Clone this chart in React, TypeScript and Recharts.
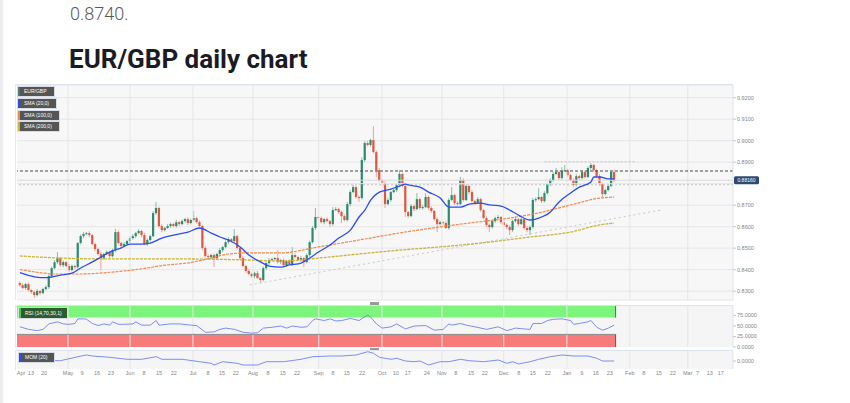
import React from 'react';
import {
  ComposedChart,
  Bar,
  Line,
  XAxis,
  YAxis,
  CartesianGrid,
  ReferenceLine,
  ReferenceArea,
} from 'recharts';

// ---- DATA (prices in pips = price * 10000) ----
const firstOpenPips = 8338;
const closePips = [
  8328, 8315, 8333, 8305, 8296, 8282, 8301, 8291, 8310, 8319,
  8370, 8407, 8435, 8454, 8421, 8435, 8417, 8398, 8417, 8412,
  8524, 8556, 8566, 8570, 8561, 8519, 8496, 8473, 8454, 8473,
  8482, 8463, 8491, 8575, 8524, 8510, 8519, 8533, 8547, 8556,
  8570, 8580, 8561, 8519, 8538, 8556, 8663, 8687, 8603, 8584,
  8594, 8603, 8612, 8603, 8621, 8612, 8626, 8635, 8617, 8631,
  8640, 8621, 8603, 8501, 8463, 8459, 8468, 8454, 8473, 8491,
  8505, 8528, 8542, 8533, 8556, 8501, 8454, 8417, 8394, 8380,
  8370, 8384, 8361, 8352, 8407, 8431, 8445, 8449, 8454, 8435,
  8445, 8421, 8440, 8426, 8468, 8459, 8445, 8454, 8435, 8468,
  8528, 8594, 8645, 8640, 8621, 8635, 8626, 8612, 8677, 8682,
  8668, 8649, 8631, 8705, 8761, 8784, 8738, 8733, 8910, 8989,
  8980, 9003, 8947, 8863, 8817, 8803, 8705, 8724, 8761, 8770,
  8794, 8845, 8789, 8668, 8649, 8696, 8682, 8728, 8687, 8691,
  8738, 8687, 8673, 8635, 8612, 8621, 8617, 8594, 8724, 8747,
  8710, 8705, 8817, 8724, 8789, 8761, 8719, 8710, 8728, 8677,
  8640, 8608, 8598, 8626, 8640, 8645, 8621, 8608, 8598, 8584,
  8626, 8635, 8612, 8635, 8594, 8584, 8598, 8724, 8728, 8738,
  8719, 8756, 8798, 8817, 8845, 8854, 8826, 8859, 8863, 8840,
  8817, 8794, 8835, 8826, 8854, 8831, 8873, 8887, 8863, 8835,
  8798, 8752, 8770, 8789, 8854, 8816,
];
const upWickPips = [
  6, 9, 5, 8, 4, 7, 10, 5, 6, 8,
  5, 7, 9, 28, 6, 8, 5, 9, 7, 6,
  4, 8, 10, 6, 9, 5, 7, 6, 8, 5,
  9, 6, 7, 14, 8, 5, 10, 6, 7, 9,
  6, 8, 5, 11, 7, 6, 9, 28, 6, 8,
  5, 9, 7, 6, 10, 5, 8, 6, 9, 7,
  33, 6, 8, 5, 7, 9, 6, 8, 5, 10,
  6, 8, 9, 5, 33, 7, 6, 8, 5, 9,
  6, 7, 10, 5, 8, 6, 9, 7, 5, 37,
  6, 8, 5, 9, 37, 7, 6, 10, 5, 8,
  6, 9, 42, 7, 8, 5, 10, 6, 14, 9,
  7, 6, 8, 10, 9, 10, 6, 8, 12, 9,
  10, 8, 65, 7, 9, 6, 8, 10, 5, 9,
  7, 18, 6, 8, 5, 9, 7, 28, 6, 10,
  18, 6, 8, 5, 9, 7, 6, 8, 10, 37,
  6, 9, 14, 7, 8, 5, 9, 6, 10, 7,
  5, 8, 6, 9, 7, 10, 5, 8, 6, 9,
  7, 14, 6, 8, 5, 9, 7, 10, 8, 41,
  6, 9, 7, 8, 10, 19, 6, 18, 24, 7,
  5, 8, 9, 6, 10, 7, 8, 9, 6, 5,
  8, 7, 6, 9, 5, 9,
];
const downWickPips = [
  7, 5, 9, 6, 8, 14, 6, 10, 5, 7,
  8, 6, 5, 9, 7, 10, 6, 8, 5, 9,
  7, 6, 8, 5, 10, 6, 9, 7, 56, 8,
  5, 9, 6, 8, 7, 10, 5, 6, 9, 7,
  8, 5, 10, 6, 9, 7, 5, 8, 6, 10,
  7, 5, 9, 6, 8, 10, 5, 7, 9, 6,
  8, 5, 7, 10, 6, 9, 8, 42, 6, 7,
  9, 5, 8, 6, 10, 7, 9, 5, 8, 6,
  7, 10, 5, 14, 6, 8, 9, 5, 7, 6,
  10, 6, 8, 5, 9, 7, 6, 8, 23, 5,
  8, 6, 9, 7, 5, 10, 6, 14, 8, 5,
  9, 32, 6, 7, 10, 5, 8, 18, 6, 9,
  7, 8, 6, 32, 9, 10, 18, 6, 8, 5,
  9, 7, 6, 23, 8, 5, 10, 6, 9, 7,
  5, 8, 9, 6, 37, 7, 10, 5, 8, 6,
  9, 7, 5, 8, 6, 10, 7, 9, 5, 8,
  6, 10, 23, 7, 8, 5, 9, 6, 10, 23,
  8, 6, 9, 5, 7, 10, 23, 6, 8, 5,
  9, 7, 6, 10, 8, 5, 9, 7, 6, 8,
  5, 10, 7, 9, 6, 8, 5, 7, 9, 6,
  8, 14, 7, 5, 6, 8,
];

// [day index, pips]
const sma20Pts = [
  [0, 8386], [5, 8367], [9, 8363], [14, 8375], [18, 8384], [21, 8408], [25, 8436],
  [28, 8459], [31, 8482], [35, 8501], [38, 8519], [42, 8519], [45, 8524], [49, 8547],
  [53, 8561], [58, 8575], [62, 8594], [66, 8570], [69, 8552], [72, 8538], [76, 8505],
  [79, 8468], [83, 8436], [86, 8417], [90, 8412], [93, 8422], [97, 8431], [100, 8454],
  [103, 8482], [107, 8515], [110, 8547], [114, 8584], [117, 8645], [119, 8677],
  [121, 8724], [124, 8761], [128, 8775], [131, 8789], [133, 8798], [134, 8794],
  [138, 8784], [141, 8761], [145, 8733], [148, 8691], [152, 8691], [155, 8705],
  [159, 8710], [162, 8701], [166, 8696], [169, 8677], [172, 8654], [176, 8631],
  [179, 8640], [183, 8668], [186, 8715], [190, 8757], [193, 8784], [197, 8808],
  [198, 8831], [200, 8831], [203, 8822], [205, 8822],
];
const sma100Pts = [
  [0, 8401], [7, 8386], [12, 8380], [21, 8380], [32, 8389], [44, 8408], [48, 8417],
  [60, 8436], [66, 8454], [72, 8473], [79, 8478], [90, 8478], [103, 8506],
  [117, 8538], [131, 8571], [145, 8599], [155, 8617], [169, 8640], [179, 8664],
  [190, 8701], [200, 8733], [205, 8738],
];
const sma200Pts = [
  [0, 8464], [14, 8454], [28, 8450], [53, 8450], [79, 8445], [90, 8440], [103, 8454],
  [117, 8473], [131, 8491], [145, 8506], [159, 8524], [176, 8552], [190, 8575],
  [200, 8608], [205, 8617],
];
// [day index, RSI value]
const rsiPts = [
  [0, 48], [3, 42], [6, 39], [8, 42], [10, 55], [13, 60], [15, 55], [17, 54], [19, 56],
  [20, 67], [22, 67], [23, 66], [25, 56], [27, 51], [29, 55], [31, 52], [32, 60],
  [34, 54], [36, 54], [39, 55], [40, 60], [42, 52], [45, 52], [47, 63], [48, 52],
  [52, 55], [55, 55], [59, 52], [61, 51], [64, 35], [67, 36], [69, 42], [71, 45],
  [74, 42], [77, 35], [80, 33], [82, 34], [84, 45], [87, 47], [90, 50], [92, 45],
  [94, 50], [97, 47], [99, 48], [101, 63], [102, 67], [105, 63], [107, 67], [109, 62],
  [111, 63], [114, 68], [117, 63], [118, 68], [120, 76], [121, 71], [123, 55],
  [125, 45], [128, 48], [130, 55], [133, 43], [136, 50], [140, 51], [143, 40],
  [146, 42], [148, 55], [149, 52], [152, 56], [154, 52], [157, 48], [161, 42],
  [165, 48], [168, 39], [171, 45], [174, 43], [176, 42], [177, 56], [180, 56],
  [182, 63], [184, 66], [187, 67], [190, 63], [191, 54], [193, 56], [196, 60],
  [197, 63], [199, 47], [201, 40], [203, 45], [205, 52],
];
// [day index, momentum in pips]
const momPts = [
  [0, 10], [14, 3], [20, 43], [23, 60], [25, 50], [31, 37], [37, 17], [42, 17],
  [47, 43], [49, 17], [56, 17], [62, -7], [66, -23], [67, -40], [70, -7], [75, -23],
  [77, -40], [82, -40], [85, -7], [91, -7], [97, 17], [101, 43], [107, 50], [111, 50],
  [116, 60], [120, 93], [122, 77], [124, 37], [128, 17], [130, 27], [133, 0],
  [136, -7], [138, 0], [141, -40], [145, -7], [148, -7], [152, 17], [155, 3],
  [160, -7], [165, 10], [168, -23], [170, -7], [172, -30], [176, -7], [179, 17],
  [183, 43], [187, 60], [191, 50], [196, 50], [199, 27], [201, 0], [205, 0],
];

// 0.8800 is hidden behind the current-price tag in the reference; its grid line is kept
const priceTicks = [0.83, 0.84, 0.85, 0.86, 0.87, 0.89, 0.9, 0.91, 0.92];
const hiddenGridPrice = 0.88;
const rsiTicks = [0, 25, 50, 75];
const xTickIdx = [
  0.4, 3.8, 8.3, 16.6, 21.4, 26.6, 31.4, 38.0, 42.8, 48.0, 53.1, 59.7, 64.9, 69.7, 74.5,
  80.4, 85.6, 90.7, 95.6, 103.1, 108.0, 112.8, 118.0, 124.9, 129.7, 133.8, 140.4, 145.6,
  150.4, 155.6, 160.4, 166.9, 172.1, 176.9, 182.1, 188.7, 193.8, 198.7, 203.5, 210.4,
  215.2, 220.4, 225.2, 230.4, 233.8, 238.0, 241.8,
];
const xTickLabels = [
  'Apr', '13', '20', 'May', '9', '16', '23', 'Jun', '8', '15', '22', 'Jul', '8', '15', '22',
  'Aug', '8', '15', '22', 'Sep', '8', '15', '22', 'Oct', '10', '17', '24', 'Nov', '8', '15',
  '22', 'Dec', '8', '15', '22', 'Jan', '9', '16', '23', 'Feb', '8', '15', '22', 'Mar', '7',
  '13', '17',
];
const monthIdx = [16.6, 38.0, 59.7, 80.4, 103.1, 124.9, 145.6, 166.9, 188.7, 210.4, 230.4];

// levels drawn on the chart
const resistanceLevel = 0.8859;
const supportLevel = 0.8795;
const topLevel = 0.8902;
const topLevelRange = [181, 212.8];
const trendStart = { x: 79.3, y: 0.8329 };
const trendEnd = { x: 221.4, y: 0.8678 };

// ---- derived tables ----
const candles = closePips.map((c, i) => {
  const open = (i === 0 ? firstOpenPips : closePips[i - 1]) / 10000;
  const close = c / 10000;
  const high = Math.max(open, close) + upWickPips[i] / 10000;
  const low = Math.min(open, close) - downWickPips[i] / 10000;
  return { i, open, close, high, low };
});
const lastIdx = candles.length - 1;
const lastClose = candles[lastIdx].close;
const toPrice = (pts: number[][]) => pts.map(([i, p]) => ({ i, v: p / 10000 }));
const toVal = (pts: number[][]) => pts.map(([i, v]) => ({ i, v }));
const sma20 = toPrice(sma20Pts);
const sma100 = toPrice(sma100Pts);
const sma200 = toPrice(sma200Pts);
const rsi = toVal(rsiPts);
const mom = toVal(momPts);

const X_DOMAIN: [number, number] = [-1, 246];
const GREEN = '#2c8c6c';
const GREEN_WICK = '#86bfa9';
const RED = '#e25640';
const RED_WICK = '#eea596';
const AXIS_FONT = { fontSize: 5.5, fill: '#858585', fontFamily: 'Liberation Sans, Arial, sans-serif' };
const MARGIN = { top: 2, right: 11, bottom: 1, left: 3 };

const Candle = (props: any) => {
  let { x, y, width, height } = props;
  const { payload } = props;
  if (!payload || x == null) return null;
  if (height < 0) {
    y += height;
    height = -height;
  }
  const { open, close, high, low } = payload;
  const up = close >= open;
  const ratio = height / Math.max(high - low, 1e-9);
  const bodyTop = y + (high - Math.max(open, close)) * ratio;
  const bodyH = Math.max(1, Math.abs(close - open) * ratio);
  const cx = x + width / 2;
  return (
    <g>
      <line x1={cx} x2={cx} y1={y} y2={y + height} stroke={up ? GREEN_WICK : RED_WICK} strokeWidth={1} />
      <rect x={cx - 1.1} y={bodyTop} width={2.2} height={bodyH} fill={up ? GREEN : RED} />
    </g>
  );
};

const PriceTag = (props: any) => {
  const vb = props.viewBox || {};
  if (vb.x == null) return null;
  const x = vb.x + vb.width;
  const y = vb.y;
  return (
    <g>
      <rect x={x + 1} y={y - 4} width={25} height={8} rx={1.5} fill="#2d4a74" />
      <text x={x + 13.5} y={y + 2} fontSize={5} fill="#ffffff" textAnchor="middle" fontFamily="Liberation Sans, Arial, sans-serif">
        {lastClose.toFixed(5)}
      </text>
    </g>
  );
};

const tagStyle = (border: string, bg = '#555555'): React.CSSProperties => ({
  position: 'absolute',
  left: 18,
  height: 9,
  background: bg,
  borderLeft: `2px solid ${border}`,
  boxShadow: '0 0 0 1px #d8dce4',
  color: '#ffffff',
  fontSize: 5,
  lineHeight: '9px',
  paddingLeft: 4,
  fontFamily: 'Liberation Sans, Arial, sans-serif',
  boxSizing: 'border-box',
  whiteSpace: 'nowrap',
});

export default function App() {
  return (
    <div style={{ position: 'absolute', left: 0, top: 0, width: 850, height: 403, background: '#ffffff', overflow: 'hidden' }}>
      <div style={{ position: 'absolute', left: 0, top: 0, width: 3, height: 403, background: '#ececf0' }} />
      <div
        style={{
          position: 'absolute', left: 70, top: 3, fontFamily: 'Roboto, sans-serif', fontWeight: 300,
          fontSize: 18, color: '#5a5a5a', whiteSpace: 'nowrap',
        }}
      >
        0.8740.
      </div>
      <div
        style={{
          position: 'absolute', left: 69, top: 44, fontFamily: 'Roboto, sans-serif', fontWeight: 700,
          fontSize: 26, color: '#1b1b24', whiteSpace: 'nowrap',
        }}
      >
        EUR/GBP daily chart
      </div>

      {/* main price panel */}
      <div style={{ position: 'absolute', left: 14, top: 83 }}>
        <ComposedChart width={760} height={218} data={candles} margin={MARGIN}>
          <CartesianGrid vertical={false} stroke="#e6e6e6" fill="#f7f7f7" />
          <XAxis type="number" dataKey="i" domain={X_DOMAIN} hide allowDataOverflow />
          <YAxis
            orientation="right"
            domain={[0.8259, 0.9259]}
            ticks={priceTicks}
            interval={0}
            allowDataOverflow
            width={30}
            tick={AXIS_FONT}
            tickSize={3}
            tickMargin={1}
            axisLine={{ stroke: '#dde3ee' }}
            tickLine={{ stroke: '#c8c8c8' }}
            tickFormatter={(v: number) => v.toFixed(4)}
          />
          <ReferenceLine y={hiddenGridPrice} stroke="#e6e6e6" />
          {monthIdx.map((m) => (
            <ReferenceLine key={'m' + m} x={m} stroke="#e6e6e6" />
          ))}
          <ReferenceLine y={supportLevel} stroke="#c4c4c4" strokeDasharray="2 2" />
          <ReferenceLine
            segment={[{ x: topLevelRange[0], y: topLevel }, { x: topLevelRange[1], y: topLevel }]}
            stroke="#c4c4c4"
            strokeDasharray="2 2"
          />
          <ReferenceLine segment={[trendStart, trendEnd]} stroke="#c8c8c8" strokeDasharray="2 3" />
          <ReferenceLine y={lastClose} stroke="#d9d9d9" label={(p: any) => <PriceTag {...p} />} />
          <ReferenceLine y={resistanceLevel} stroke="#4a4a4a" strokeDasharray="3 2" strokeWidth={1.1} />
          <Line data={sma200} dataKey="v" type="monotone" stroke="#c9b43a" strokeWidth={1.3} strokeDasharray="3 1" dot={false} isAnimationActive={false} />
          <Line data={sma100} dataKey="v" type="monotone" stroke="#f08a4b" strokeWidth={1.2} strokeDasharray="3 1" dot={false} isAnimationActive={false} />
          <Bar dataKey={(d: any) => [d.low, d.high]} shape={<Candle />} barSize={3} isAnimationActive={false} />
          <Line data={sma20} dataKey="v" type="monotone" stroke="#2b4cf0" strokeWidth={1.3} dot={false} isAnimationActive={false} />
        </ComposedChart>
      </div>

      {/* Momentum panel */}
      <div style={{ position: 'absolute', left: 14, top: 349 }}>
        <ComposedChart width={760} height={29} data={mom} margin={{ top: 2, right: 11, bottom: 0, left: 3 }}>
          <CartesianGrid vertical={false} horizontal={false} fill="#f5f5f5" />
          <XAxis
            type="number"
            dataKey="i"
            domain={X_DOMAIN}
            allowDataOverflow
            ticks={xTickIdx}
            interval={0}
            height={9}
            tick={AXIS_FONT}
            tickSize={2}
            tickMargin={0}
            axisLine={false}
            tickLine={false}
            tickFormatter={(_v: number, idx: number) => xTickLabels[idx]}
          />
          <YAxis
            orientation="right"
            domain={[-80, 100]}
            ticks={[0]}
            interval={0}
            width={30}
            tick={AXIS_FONT}
            tickSize={3}
            tickMargin={1}
            axisLine={{ stroke: '#dde3ee' }}
            tickLine={{ stroke: '#c8c8c8' }}
            tickFormatter={(v: number) => (v / 10000).toFixed(4)}
          />
          {monthIdx.map((m) => (
            <ReferenceLine key={'o' + m} x={m} stroke="#e6e6e6" />
          ))}
          <Line dataKey="v" type="linear" stroke="#7b8ef4" strokeWidth={1} dot={false} isAnimationActive={false} />
        </ComposedChart>
      </div>

      {/* RSI panel (drawn after the momentum panel so its bottom label stays on top) */}
      <div style={{ position: 'absolute', left: 14, top: 303 }}>
        <ComposedChart width={760} height={50} data={rsi} margin={{ top: 2, right: 11, bottom: 6, left: 3 }}>
          <CartesianGrid vertical={false} horizontal={false} fill="#f5f5f5" />
          <XAxis type="number" dataKey="i" domain={X_DOMAIN} hide allowDataOverflow />
          <YAxis
            orientation="right"
            domain={[0, 100]}
            ticks={rsiTicks}
            interval={0}
            width={30}
            tick={AXIS_FONT}
            tickSize={3}
            tickMargin={1}
            axisLine={{ stroke: '#dde3ee' }}
            tickLine={{ stroke: '#c8c8c8' }}
            tickFormatter={(v: number) => v.toFixed(4)}
          />
          {monthIdx.map((m) => (
            <ReferenceLine key={'r' + m} x={m} stroke="#e6e6e6" />
          ))}
          <ReferenceArea x1={X_DOMAIN[0]} x2={lastIdx + 0.5} y1={70} y2={100} fill="#7df57d" fillOpacity={1} />
          <ReferenceArea x1={X_DOMAIN[0]} x2={lastIdx + 0.5} y1={0} y2={30} fill="#f77b7b" fillOpacity={1} />
          <ReferenceLine segment={[{ x: X_DOMAIN[0], y: 30 }, { x: lastIdx + 0.5, y: 30 }]} stroke="#8a8a8a" />
          <ReferenceLine segment={[{ x: lastIdx + 0.5, y: 70 }, { x: lastIdx + 0.5, y: 100 }]} stroke="#3f7a3f" />
          <ReferenceLine segment={[{ x: lastIdx + 0.5, y: 0 }, { x: lastIdx + 0.5, y: 30 }]} stroke="#7a4a4a" />
          <Line dataKey="v" type="linear" stroke="#7b8ef4" strokeWidth={1} dot={false} isAnimationActive={false} />
        </ComposedChart>
      </div>

      {/* frames & handles */}
      <div style={{ position: 'absolute', left: 15, top: 84, width: 718, height: 216, borderTop: '1px solid #dde3ee', borderLeft: '1px solid #e4e8ef', boxSizing: 'border-box' }} />
      <div style={{ position: 'absolute', left: 15, top: 305, width: 718, height: 43, borderTop: '1px solid #dde3ee', borderLeft: '1px solid #e4e8ef', boxSizing: 'border-box' }} />
      <div style={{ position: 'absolute', left: 15, top: 350, width: 718, height: 20, borderTop: '1px solid #dde3ee', borderLeft: '1px solid #e4e8ef', boxSizing: 'border-box' }} />
      <div style={{ position: 'absolute', left: 370, top: 302, width: 9, height: 2.5, background: '#9a9a9a' }} />
      <div style={{ position: 'absolute', left: 370, top: 347.5, width: 9, height: 2.5, background: '#9a9a9a' }} />

      {/* legend tags */}
      <div style={{ ...tagStyle('#4d7a66'), top: 87, width: 36 }}>EUR/GBP</div>
      <div style={{ ...tagStyle('#2b4cf0'), top: 99, width: 38 }}>SMA (20,0)</div>
      <div style={{ ...tagStyle('#f08a4b'), top: 111, width: 41 }}>SMA (100,0)</div>
      <div style={{ ...tagStyle('#c9b43a'), top: 122, width: 41 }}>SMA (200,0)</div>
      <div style={{ ...tagStyle('#3fd23f', '#2f5c2f'), top: 308, left: 19, width: 48, height: 10, lineHeight: '10px' }}>RSI (14,70,30,1)</div>
      <div style={{ ...tagStyle('#2b4cf0'), top: 353, left: 19, width: 35 }}>MOM (20)</div>
    </div>
  );
}
